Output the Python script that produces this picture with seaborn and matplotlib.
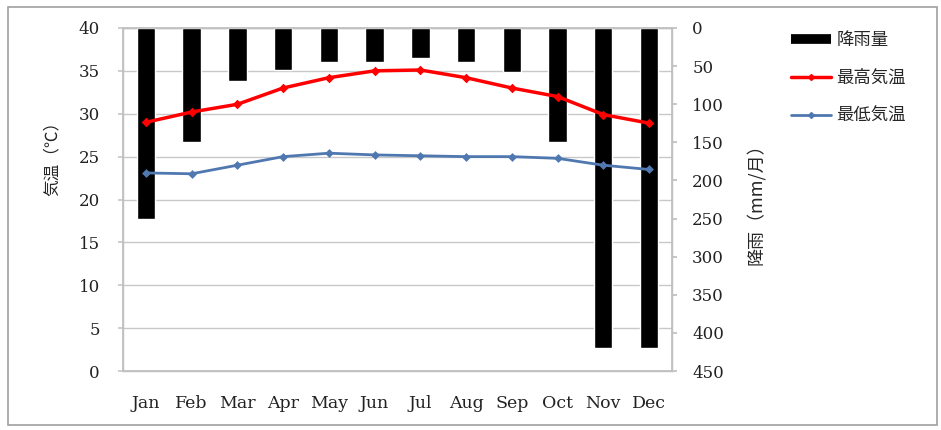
import numpy as np
import pandas as pd
import matplotlib
matplotlib.use("Agg")
import matplotlib.pyplot as plt
import seaborn as sns
from matplotlib.lines import Line2D
from matplotlib.patches import Rectangle

# データ
months = ["Jan", "Feb", "Mar", "Apr", "May", "Jun",
          "Jul", "Aug", "Sep", "Oct", "Nov", "Dec"]
rain = [250, 150, 70, 55, 45, 45, 40, 45, 58, 150, 420, 420]
t_max = [29.0, 30.2, 31.1, 33.0, 34.2, 35.0, 35.1, 34.2, 33.0, 32.0, 29.9, 28.9]
t_min = [23.1, 23.0, 24.0, 25.0, 25.4, 25.2, 25.1, 25.0, 25.0, 24.8, 24.0, 23.5]

df = pd.DataFrame({"month": months, "rain": rain, "tmax": t_max, "tmin": t_min})

sns.set_theme(style="white")
plt.rcParams['font.family'] = ['DejaVu Serif', 'Noto Sans CJK JP']
jp = ['Noto Sans CJK JP', 'DejaVu Sans']
blue = "#5078b0"

fig = plt.figure(figsize=(9.41, 4.30), dpi=100)
fig.patches.append(Rectangle((0.009, 0.012), 0.987, 0.972, transform=fig.transFigure,
                             fill=False, edgecolor="#a0a0a0", linewidth=1.2))

# 背景のグリッド用
ax = fig.add_axes([0.1307, 0.137, 0.5834, 0.798])
ax.set_ylim(0, 40)
ax.set_yticks(np.arange(0, 41, 5))
ax.yaxis.grid(True, color="#c8c8c8", linewidth=1.0)
ax.set_xlim(-0.5, 11.5)
ax.set_xticks(range(12))
ax.set_xticklabels(months)
ax.tick_params(axis="y", left=True, length=3.6, color="#c8c8c8", pad=13, labelsize=12, labelcolor="#222222")
ax.tick_params(axis="x", bottom=False, pad=11, labelsize=12.5, labelcolor="#222222")
for s in ax.spines.values():
    s.set_color("#c0c0c0")
    s.set_linewidth(1.0)
ax.set_ylabel("気温（℃）", family=jp, fontsize=12)
ax.yaxis.set_label_coords(-0.113, 0.63)

# 降雨量 (右軸、反転)
ax2 = ax.twinx()
sns.barplot(data=df, x="month", y="rain", color="black", width=0.4,
            saturation=1, ax=ax2, zorder=2)
ax2.set_ylim(450, 0)
ax2.set_yticks(np.arange(0, 451, 50))
ax2.set_xlim(-0.5, 11.5)
ax2.tick_params(axis="y", right=True, length=3.6, color="#c0c0c0", pad=11, labelsize=12, labelcolor="#222222")
ax2.set_xlabel("")
ax2.set_ylabel("降雨（mm/月）", family=jp, fontsize=13, rotation=90)
ax2.yaxis.set_label_coords(1.135, 0.5)
for s in ax2.spines.values():
    s.set_color("#c0c0c0")

# 気温 (線)
ax3 = ax.twinx()
ax3.set_ylim(0, 40)
sns.pointplot(data=df, x="month", y="tmax", color="#ff0000", markers="D",
              markersize=3, linewidth=2.5, ax=ax3)
sns.pointplot(data=df, x="month", y="tmin", color=blue, markers="D",
              markersize=3, linewidth=2.0, ax=ax3)
ax3.set_xlim(-0.5, 11.5)
ax3.set_ylim(0, 40)
ax3.set_yticks([])
ax3.set_xlabel("")
ax3.set_ylabel("")
for s in ax3.spines.values():
    s.set_visible(False)

# 凡例
handles = [
    Line2D([], [], color="black", linewidth=7, solid_capstyle="butt"),
    Line2D([], [], color="#ff0000", linewidth=2.5, marker="D", markersize=3),
    Line2D([], [], color=blue, linewidth=2.0, marker="D", markersize=3),
]
labels = ["降雨量", "最高気温", "最低気温"]
fig.legend(handles, labels, loc="upper left", bbox_to_anchor=(0.824, 0.965),
           frameon=False, prop={"family": jp, "size": 12.5}, handlelength=2.3,
           handletextpad=0.3, labelspacing=1.15)

fig.savefig("out.png", dpi=100)
